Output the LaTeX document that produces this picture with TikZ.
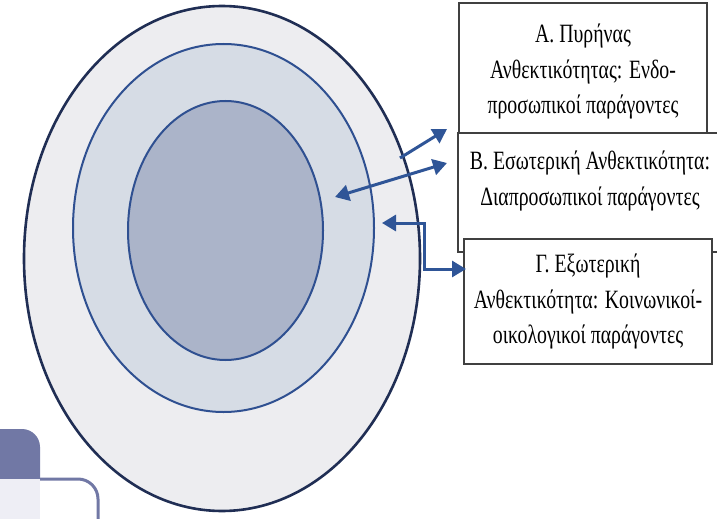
\documentclass[tikz,border=0pt]{standalone}
\usepackage{fontspec}
\setmainfont{Liberation Serif}[FakeStretch=0.75]
\usetikzlibrary{arrows.meta,shapes}

\definecolor{ringout}{RGB}{237,237,240}
\definecolor{ringmid}{RGB}{214,220,229}
\definecolor{ringin}{RGB}{171,180,201}
\definecolor{navydark}{RGB}{32,46,84}
\definecolor{ringline}{RGB}{47,80,145}
\definecolor{arrowblue}{RGB}{47,85,151}
\definecolor{slate}{RGB}{113,120,165}
\definecolor{pale}{RGB}{238,238,245}

\tikzset{
  framebox/.style={draw=black!75,line width=.9pt,fill=white,inner sep=0pt,align=center,
    font=\fontsize{13.2pt}{17.75pt}\selectfont},
  boxtext/.style={inner sep=0pt,align=center,font=\fontsize{13.2pt}{17.75pt}\selectfont},
  bluearrow/.style={draw=arrowblue,line width=1.5pt,
    arrows={-Triangle[length=7pt,width=8pt]}}
}

\begin{document}
\begin{tikzpicture}[x=0.5pt,y=-0.5pt]
\useasboundingbox (0,0) rectangle (717,519);
\fill[slate](0,479)--(0,429)--(22,429) arc[start angle=90,end angle=0,radius=9pt]--(40,479)--cycle;
\fill[pale](0,479) rectangle (40,519);
\draw[slate,line width=1.5pt](40,479)--(78,479) arc[start angle=90,end angle=0,radius=10pt]--(98,519);
\draw[line width=1.3pt,fill=ringout,draw=navydark](222,258.5) ellipse [x radius=99pt,y radius=126.25pt];
\draw[line width=1pt,fill=ringmid,draw=ringline](223.5,228) ellipse [x radius=75.25pt,y radius=92pt];
\draw[line width=1pt,fill=ringin,draw=ringline](225.5,230.5) ellipse [x radius=48.75pt,y radius=64.75pt];
\node[framebox,minimum width=124pt,minimum height=69pt] (A) at (583,72)
  {Α. Πυρήνας\\Ανθεκτικότητας: Ενδο-\\προσωπικοί παράγοντες};
\node[framebox,minimum width=132pt,minimum height=59.5pt] (B) at (590,192.5) {};
\node[boxtext] (Btext) at (590,181) {Β. Εσωτερική Ανθεκτικότητα:\\Διαπροσωπικοί παράγοντες};
\node[framebox,minimum width=124pt,minimum height=62.5pt] (C) at (588,301.5)
  {Γ. Εξωτερική\\Ανθεκτικότητα: Κοινωνικοί-\\οικολογικοί παράγοντες};
\coordinate (ringA) at (400,158);
\coordinate (tipA) at (447,129);
\coordinate (ringB) at (335,197);
\coordinate (tipB) at (447,163);
\coordinate (ringC) at (382,223);
\coordinate (bendC) at (424,269);
\coordinate (tipC) at (466,269);
\draw[bluearrow](ringA)--(tipA);
\draw[bluearrow,arrows={Triangle[length=7pt,width=8pt]-Triangle[length=7pt,width=8pt]}](ringB)--(tipB);
\draw[bluearrow,arrows={Triangle[length=7pt,width=8pt]-Triangle[length=7pt,width=8pt]}](ringC)-|(bendC)--(tipC);
\end{tikzpicture}
\end{document}
